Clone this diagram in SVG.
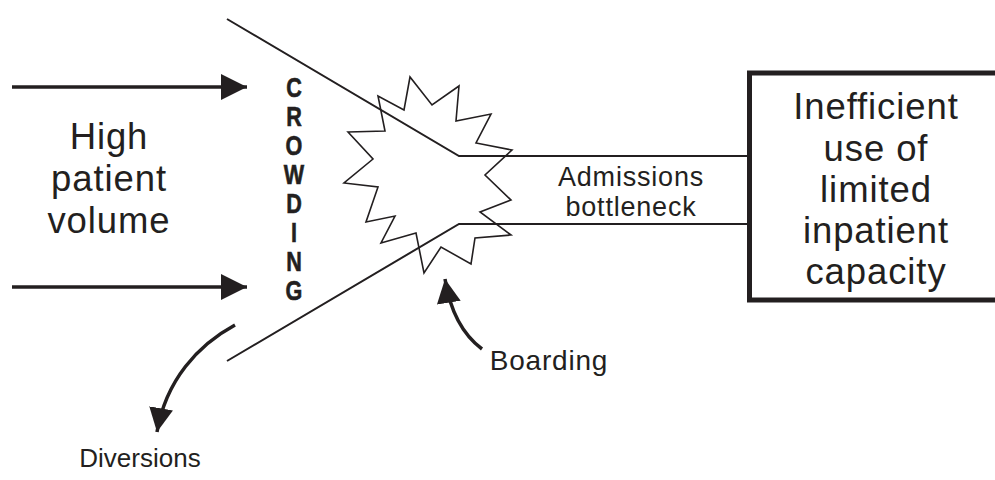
<svg xmlns="http://www.w3.org/2000/svg" width="995" height="480" viewBox="0 0 995 480">
<style>
  .t { font-family: "Liberation Sans", Arial, Helvetica, sans-serif; fill: #231f20; text-anchor: middle; }
  .big { font-size: 36.5px; letter-spacing: 0.9px; }
  .mid { font-size: 27px; letter-spacing: 0.8px; }
  .brd { font-size: 28px; letter-spacing: 0.8px; }
  .div { font-size: 26px; }
  .crowd { font-size: 27px; font-weight: bold; stroke: #231f20; stroke-width: 0.6px; }
  .ln { fill: none; stroke: #231f20; stroke-width: 2; }
  .arr { fill: none; stroke: #231f20; stroke-width: 3.5; }
</style>
<defs>
  <marker id="ah" viewBox="0 0 10 10" refX="10" refY="5" markerUnits="userSpaceOnUse" markerWidth="30" markerHeight="26" orient="auto">
    <path d="M0,0 L10,5 L0,10 z" fill="#231f20"/>
  </marker>
  <marker id="ahs" viewBox="0 0 10 10" refX="10" refY="5" markerUnits="userSpaceOnUse" markerWidth="24" markerHeight="26" orient="auto">
    <path d="M0,0 L10,5 L0,10 z" fill="#231f20"/>
  </marker>
</defs>

<g id="connectors">
  <line class="arr" x1="12" y1="87" x2="247" y2="87" marker-end="url(#ah)"/>
  <line class="arr" x1="12" y1="287" x2="247" y2="287" marker-end="url(#ah)"/>
  <polyline class="ln" points="227,19 459,156 749,156"/>
  <polyline class="ln" points="227,361 459,224 749,224"/>
  <path class="arr" d="M235,325 C198,345 166,380 157,432" marker-end="url(#ahs)"/>
  <path class="arr" d="M482,349 C462,334 450,310 445,279" marker-end="url(#ahs)"/>
</g>

<g id="starburst">
  <polygon fill="none" stroke="#231f20" stroke-width="1.6" stroke-linejoin="miter" points="348,132 385,131 378,96 404,110 410,77 432,105 459,86 456,121 491,114 476,143 512,150 485,175 511,200 480,212 511,235 475,238 471,264 441,247 424,273 416,233 381,243 395,216 366,222 378,187 344,183 373,159"/>
</g>

<g id="high-patient-volume">
  <text class="t big" x="109" y="149">High</text>
  <text class="t big" x="109" y="191">patient</text>
  <text class="t big" x="109" y="233">volume</text>
</g>

<g id="crowding">
  <g transform="translate(294 0) scale(0.8 1)">
    <text class="t crowd" x="0" y="97">C</text>
    <text class="t crowd" x="0" y="126">R</text>
    <text class="t crowd" x="0" y="155">O</text>
    <text class="t crowd" x="0" y="184">W</text>
    <text class="t crowd" x="0" y="213">D</text>
    <text class="t crowd" x="0" y="242">I</text>
    <text class="t crowd" x="0" y="271">N</text>
    <text class="t crowd" x="0" y="300">G</text>
  </g>
</g>

<g id="admissions">
  <text class="t mid" x="631" y="186">Admissions</text>
  <text class="t mid" x="631" y="216">bottleneck</text>
</g>

<g id="inpatient-box">
  <rect x="749.5" y="73" width="300" height="227" fill="none" stroke="#231f20" stroke-width="5"/>
  <text class="t big" x="876" y="119">Inefficient</text>
  <text class="t big" x="876" y="161">use of</text>
  <text class="t big" x="876" y="202">limited</text>
  <text class="t big" x="876" y="243">inpatient</text>
  <text class="t big" x="876" y="284">capacity</text>
</g>

<g id="boarding">
  <text class="t brd" x="549" y="370">Boarding</text>
</g>

<g id="diversions">
  <text class="t div" x="140" y="467">Diversions</text>
</g>
</svg>
